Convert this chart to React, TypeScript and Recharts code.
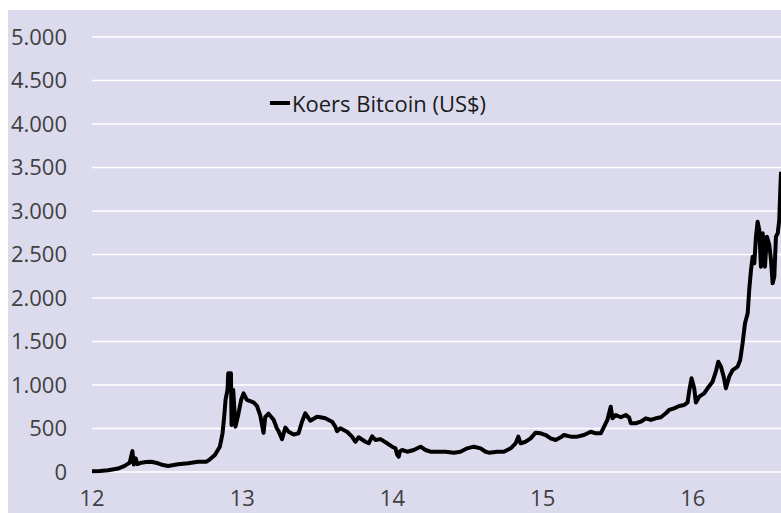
import React from "react";
import { LineChart, Line, XAxis, YAxis, CartesianGrid, Legend } from "recharts";

// x = jaartal (12 = 2012 ...), price in US$
const years = [
  12.0, 12.053, 12.107, 12.173, 12.218, 12.251, 12.269, 12.278, 12.291, 12.302,
  12.329, 12.36, 12.395, 12.44, 12.473, 12.507, 12.573, 12.64, 12.707, 12.762,
  12.785, 12.818, 12.851, 12.869, 12.88, 12.889, 12.902, 12.907, 12.925, 12.929,
  12.94, 12.955, 12.973, 12.993, 13.009, 13.031, 13.075, 13.098, 13.12, 13.142,
  13.153, 13.175, 13.209, 13.231, 13.242, 13.265, 13.287, 13.309, 13.342, 13.375,
  13.398, 13.42, 13.453, 13.498, 13.52, 13.553, 13.598, 13.62, 13.631, 13.653,
  13.698, 13.731, 13.753, 13.775, 13.82, 13.842, 13.865, 13.887, 13.92, 13.965,
  13.998, 14.02, 14.031, 14.042, 14.049, 14.065, 14.098, 14.142, 14.187, 14.22,
  14.253, 14.309, 14.353, 14.409, 14.453, 14.498, 14.542, 14.587, 14.62, 14.642,
  14.698, 14.742, 14.787, 14.82, 14.838, 14.853, 14.887, 14.92, 14.953, 14.987,
  15.02, 15.053, 15.087, 15.12, 15.142, 15.187, 15.231, 15.275, 15.32, 15.353,
  15.387, 15.409, 15.431, 15.453, 15.465, 15.487, 15.52, 15.553, 15.575, 15.587,
  15.62, 15.653, 15.687, 15.72, 15.753, 15.787, 15.82, 15.842, 15.875, 15.909,
  15.942, 15.965, 15.975, 15.991, 16.009, 16.02, 16.042, 16.075, 16.098, 16.131,
  16.153, 16.169, 16.187, 16.205, 16.22, 16.242, 16.265, 16.298, 16.315, 16.331,
  16.347, 16.365, 16.375, 16.387, 16.398, 16.409, 16.42, 16.431, 16.442, 16.453,
  16.465, 16.48, 16.493, 16.509, 16.52, 16.531, 16.542, 16.553, 16.565, 16.575,
  16.582, 16.587,
];

const koers = [
  10, 12, 20, 40, 70, 107, 240, 85, 157, 90,
  107, 115, 118, 100, 80, 69, 88, 100, 118, 118,
  146, 195, 291, 445, 636, 828, 943, 1134, 1134, 540,
  943, 521, 655, 830, 904, 828, 800, 760, 650, 450,
  630, 670, 600, 500, 470, 378, 510, 463, 430, 445,
  578, 675, 590, 636, 630, 617, 578, 521, 470, 502,
  463, 406, 348, 399, 348, 330, 410, 368, 378, 330,
  291, 272, 200, 176, 233, 253, 233, 253, 291, 253,
  233, 233, 233, 222, 233, 272, 291, 272, 233, 222,
  233, 233, 272, 330, 406, 330, 348, 387, 452, 445,
  425, 387, 368, 399, 425, 406, 406, 425, 463, 445,
  445, 521, 598, 751, 617, 655, 629, 655, 629, 560,
  560, 578, 617, 598, 617, 629, 675, 713, 732, 759,
  770, 800, 923, 1077, 962, 800, 866, 904, 962, 1038,
  1153, 1268, 1211, 1096, 962, 1096, 1172, 1211, 1287, 1479,
  1709, 1824, 2092, 2322, 2475, 2399, 2705, 2877, 2782, 2360,
  2744, 2360, 2705, 2609, 2437, 2169, 2245, 2705, 2744, 2897,
  3242, 3450,
];

const yTicks = [0, 500, 1000, 1500, 2000, 2500, 3000, 3500, 4000, 4500, 5000];
const xTicks = [12, 13, 14, 15, 16];
const seriesName = "Koers Bitcoin (US$)";

const data = years.map((t, i) => ({ t, koers: koers[i] }));

const fmt = (v: number) => String(v).replace(/\B(?=(\d{3})+(?!\d))/g, ".");

const font = "'Open Sans', sans-serif";

const LegendBox = () => (
  <div style={{ display: "flex", alignItems: "center", fontFamily: font, fontSize: 22, lineHeight: "30px", color: "#1a1a1a" }}>
    <svg width={20} height={6} style={{ marginRight: 2 }}>
      <line x1={0} y1={3} x2={20} y2={3} stroke="#000" strokeWidth={4} />
    </svg>
    <span>{seriesName}</span>
  </div>
);

export default function App() {
  return (
    <div
      style={{
        position: "fixed",
        top: 10,
        left: 8,
        width: 773,
        height: 503,
        overflow: "hidden",
        background: "#dcdbee",
      }}
    >
      <LineChart width={775} height={540} data={data} margin={{ top: 27, right: 0, bottom: 0, left: 0 }}>
        <CartesianGrid vertical={false} stroke="#ffffff" strokeWidth={1.6} />
        <XAxis
          dataKey="t"
          type="number"
          domain={[12, 16.6]}
          ticks={xTicks}
          allowDataOverflow
          axisLine={false}
          tickLine={false}
          tickSize={0}
          tickMargin={18}
          height={78}
          tick={{ fill: "#404040", fontSize: 22, fontFamily: font }}
        />
        <YAxis
          domain={[0, 5000]}
          ticks={yTicks}
          tickFormatter={fmt}
          axisLine={false}
          tickLine={false}
          tickSize={0}
          tickMargin={25}
          width={84}
          tick={{ fill: "#404040", fontSize: 22, fontFamily: font }}
        />
        <Legend
          layout="vertical"
          align="center"
          verticalAlign="middle"
          content={() => <LegendBox />}
          wrapperStyle={{ top: 78, left: 262, width: 260 }}
        />
        <Line
          type="linear"
          dataKey="koers"
          name={seriesName}
          stroke="#000000"
          strokeWidth={4}
          strokeLinejoin="round"
          dot={false}
          isAnimationActive={false}
        />
      </LineChart>
    </div>
  );
}
